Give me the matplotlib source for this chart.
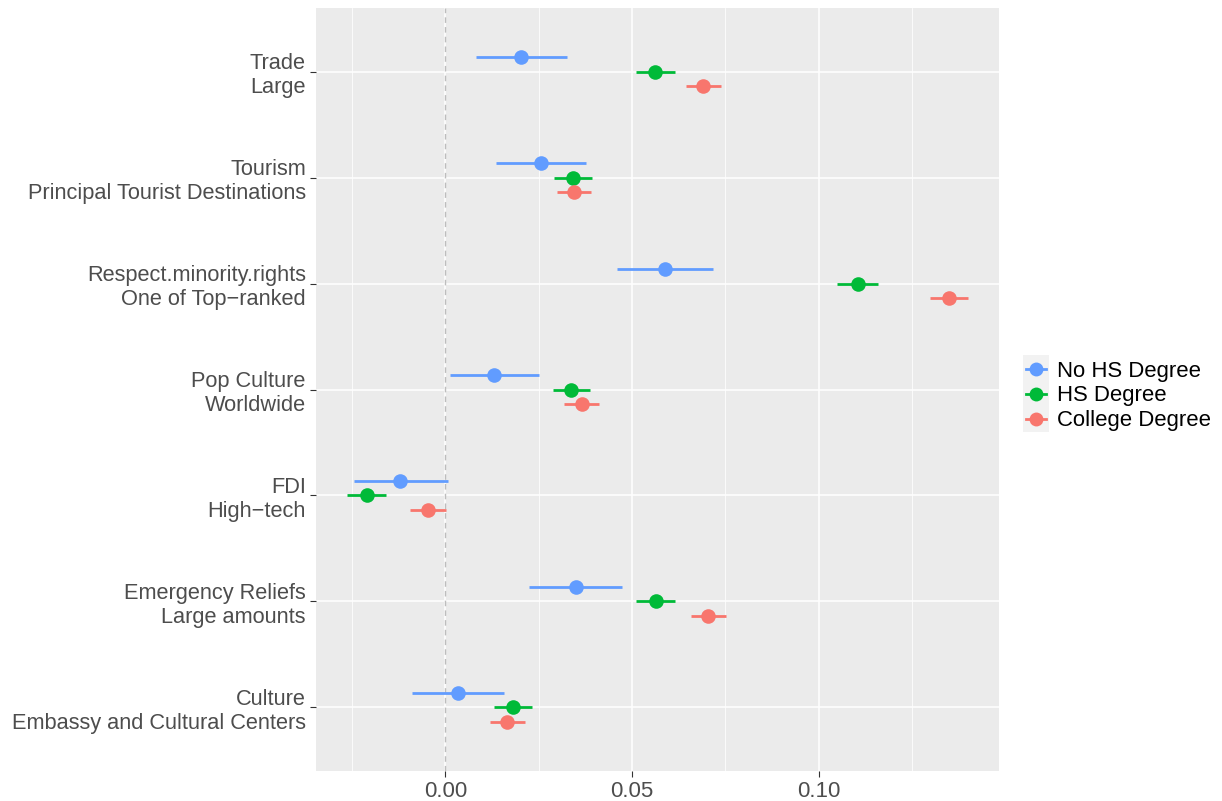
import matplotlib
matplotlib.use("Agg")
import matplotlib.pyplot as plt
from matplotlib.lines import Line2D
from matplotlib.patches import Rectangle
import numpy as np

plt.rcParams["font.family"] = ["Liberation Sans", "DejaVu Sans"]

# ---- data -----------------------------------------------------------------
categories = [
    "Trade\nLarge",
    "Tourism\nPrincipal Tourist Destinations",
    "Respect.minority.rights\nOne of Top\u2212ranked",
    "Pop Culture\nWorldwide",
    "FDI\nHigh\u2212tech",
    "Emergency Reliefs\nLarge amounts",
    "Culture\nEmbassy and Cultural Centers",
]
groups = ["No HS Degree", "HS Degree", "College Degree"]

est_no_hs = [0.0203, 0.0255, 0.0589, 0.0131, -0.0121, 0.0349, 0.0034]
lo_no_hs = [0.0081, 0.0135, 0.0459, 0.0012, -0.0246, 0.0225, -0.0089]
hi_no_hs = [0.0325, 0.0376, 0.0718, 0.0250, 0.0006, 0.0473, 0.0157]

est_hs = [0.0562, 0.0342, 0.1104, 0.0337, -0.0211, 0.0563, 0.0181]
lo_hs = [0.0511, 0.0291, 0.1049, 0.0287, -0.0263, 0.0511, 0.0130]
hi_hs = [0.0614, 0.0392, 0.1160, 0.0387, -0.0158, 0.0614, 0.0231]

est_col = [0.0691, 0.0344, 0.1349, 0.0365, -0.0046, 0.0704, 0.0166]
lo_col = [0.0645, 0.0298, 0.1298, 0.0319, -0.0094, 0.0658, 0.0120]
hi_col = [0.0738, 0.0390, 0.1400, 0.0411, 0.0002, 0.0751, 0.0212]

colors = ["#619CFF", "#00BA38", "#F8766D"]
offsets = [-0.134, 0.0, 0.134]

series = [(est_no_hs, lo_no_hs, hi_no_hs),
          (est_hs, lo_hs, hi_hs),
          (est_col, lo_col, hi_col)]

# ---- plot -------------------------------------------------------------------
fig = plt.figure(figsize=(12.22, 8.01), dpi=100)
ax = fig.add_axes([315.5 / 1222, 1 - 771 / 801, (999 - 315.5) / 1222, (771 - 8) / 801])
ax.set_facecolor("#EBEBEB")
for s in ax.spines.values():
    s.set_visible(False)

ypos = np.arange(len(categories))
ax.set_xlim(-0.0348, 0.1483)
ax.set_ylim(len(categories) - 0.4, -0.6)

# grid
for xv in np.arange(-0.025, 0.15, 0.025):
    major = abs(round(xv / 0.05) * 0.05 - xv) < 1e-9
    ax.axvline(xv, color="white", lw=1.1 if major else 0.55, zorder=0)
for yv in ypos:
    ax.axhline(yv, color="white", lw=1.1, zorder=0)
ax.axvline(0, color="#BDBDBD", lw=1.0, ls=(0, (4, 3)), zorder=1)

for (est, lo, hi), c, off in zip(series, colors, offsets):
    y = ypos + off
    ax.hlines(y, lo, hi, color=c, lw=2.0, zorder=2)
    ax.plot(est, y, "o", color=c, ms=10.5, mew=0, zorder=3)

ax.set_yticks(ypos)
ax.set_yticklabels(categories, fontsize=15.7, color="#4D4D4D", linespacing=1.2)
for lbl in ax.get_yticklabels():
    lbl.set_y(lbl.get_position()[1])
ax.set_xticks([0.0, 0.05, 0.10])
ax.set_xticklabels(["0.00", "0.05", "0.10"], fontsize=16, color="#4D4D4D")
ax.tick_params(axis="both", length=4, width=0.8, color="#333333", pad=3)

# legend
handles = [Line2D([], [], color=c, marker="o", ms=10, mew=0, lw=2.0) for c in colors]
fig.patches.append(Rectangle((1022.7 / 1222, 1 - 432 / 801), 26.5 / 1222, 77 / 801,
                             transform=fig.transFigure, facecolor="#F2F2F2",
                             edgecolor="none", zorder=0))
fig.legend(handles, groups, loc="center left", bbox_to_anchor=(1011 / 1222, 1 - 396 / 801),
           frameon=False, fontsize=15.9, handlelength=0.9, handletextpad=0.5,
           labelspacing=0.17, borderpad=0.2)

fig.savefig("out.png", dpi=100)
